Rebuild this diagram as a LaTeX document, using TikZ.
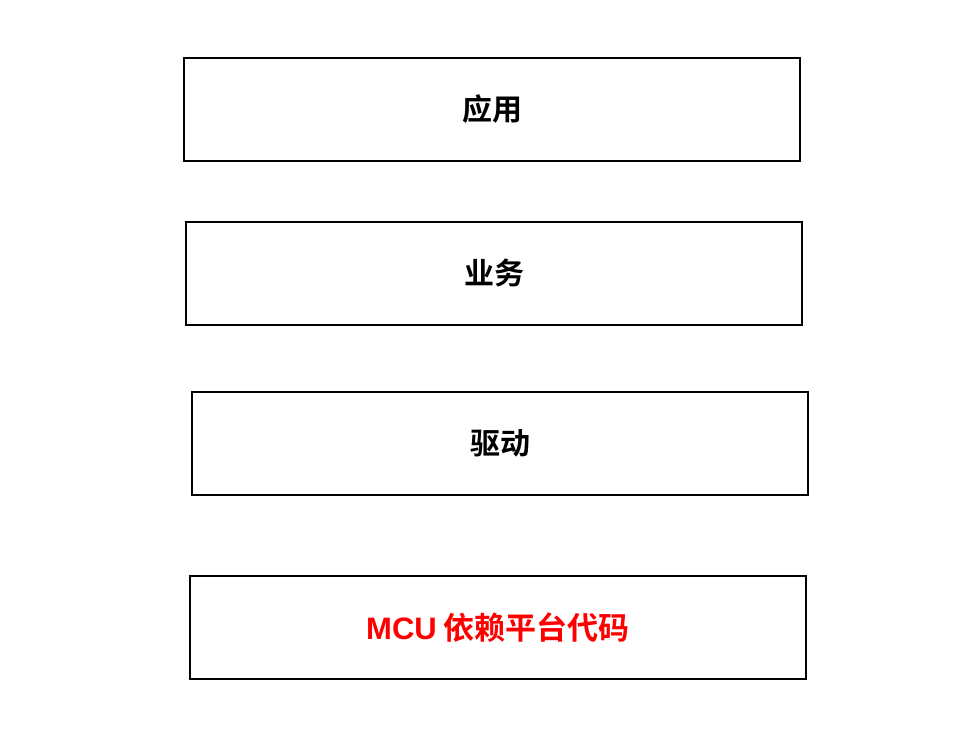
\documentclass[tikz,border=0pt]{standalone}
\usepackage{fontspec}
\usepackage{xcolor}
\newfontfamily\cjk{Noto Sans CJK SC}[BoldFont={Noto Sans CJK SC Bold}]
\newfontfamily\latinbold{Liberation Sans}
\newcommand{\layerw}{616pt}
\newcommand{\layerh}{103pt}
\tikzset{
  layer/.style={draw, line width=2pt, minimum width=\layerw,
    minimum height=\layerh, inner sep=0pt, outer sep=0pt,
    font=\cjk\bfseries\fontsize{30pt}{33pt}\selectfont},
}
\begin{document}
\begin{tikzpicture}[x=1pt,y=-1pt]
    \useasboundingbox (0,0) rectangle (966,728);
    % upper layers
    \node[layer] (app) at (492,109.5) {应用};
    \node[layer] (biz) at (494,273.5) {业务};
    \node[layer] (drv) at (500,443.5) {驱动};
    % platform layer
    \node[layer, text=red, font=\cjk\bfseries\fontsize{31pt}{34pt}\selectfont]
      (mcu) at (498,627.5)
      {{\latinbold\bfseries MCU} 依赖平台代码};
\end{tikzpicture}
\end{document}
